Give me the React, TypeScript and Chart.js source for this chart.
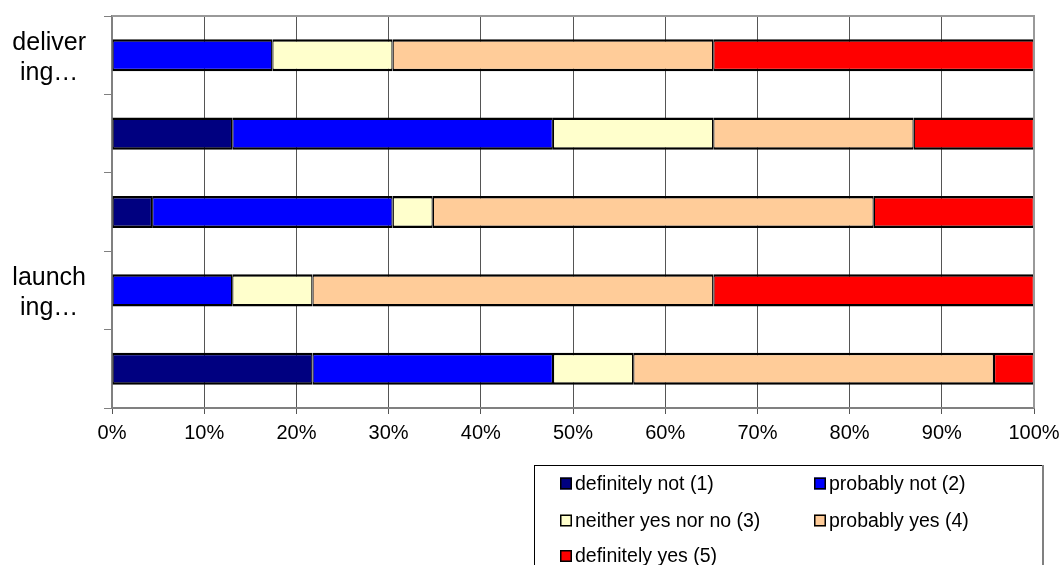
import { useEffect, useRef } from "react";
import { Chart, registerables } from "chart.js";

Chart.register(...registerables);

// Survey rows; only two row labels are printed on the axis
const categories: (string | string[])[] = [["deliver", "ing…"], "", "", ["launch", "ing…"], ""];

// Share of answers per row, in percent
const definitelyNot = [0, 13.04, 4.35, 0, 21.74];
const probablyNot = [17.39, 34.78, 26.09, 13.04, 26.09];
const neitherYesNorNo = [13.04, 17.39, 4.35, 8.7, 8.7];
const probablyYes = [34.78, 21.74, 47.83, 43.48, 39.13];
const definitelyYes = [34.79, 13.05, 17.38, 34.78, 4.34];

const seriesNames = [
  "definitely not (1)",
  "probably not (2)",
  "neither yes nor no (3)",
  "probably yes (4)",
  "definitely yes (5)",
];
const seriesColors = ["#000080", "#0000FF", "#FFFFCC", "#FFCC99", "#FF0000"];
const seriesValues = [definitelyNot, probablyNot, neitherYesNorNo, probablyYes, definitelyYes];

const xTickStep = 10;
const FONT = "'Liberation Sans', Arial, sans-serif";

// Frame around the plot area (top and right sides; left/bottom are the axes)
const plotFrame = {
  id: "plotFrame",
  afterDatasetsDraw(chart: any) {
    const { ctx, chartArea: a } = chart;
    ctx.save();
    ctx.strokeStyle = "#999999";
    ctx.lineWidth = 2;
    ctx.beginPath();
    ctx.moveTo(a.left, a.top);
    ctx.lineTo(a.right, a.top);
    ctx.lineTo(a.right, a.bottom);
    ctx.stroke();
    ctx.restore();
  },
};

// Boxed two-column legend under the plot
const boxLegend = {
  id: "boxLegend",
  afterDraw(chart: any) {
    const { ctx } = chart;
    ctx.save();
    ctx.fillStyle = "#ffffff";
    ctx.fillRect(534, 465, 509, 110);
    ctx.strokeStyle = "#000000";
    ctx.lineWidth = 1;
    ctx.strokeRect(534.5, 465.5, 508, 120);
    ctx.strokeStyle = "#808080";
    ctx.lineWidth = 2;
    ctx.beginPath();
    ctx.moveTo(1043, 465);
    ctx.lineTo(1043, 570);
    ctx.stroke();

    const cols = [560, 814];
    const rows = [483.5, 520.5, 556];
    ctx.font = `19.5px ${FONT}`;
    ctx.textBaseline = "middle";
    ctx.textAlign = "left";
    chart.data.datasets.forEach((ds: any, i: number) => {
      const x = cols[i % 2];
      const y = rows[Math.floor(i / 2)];
      ctx.fillStyle = ds.backgroundColor;
      ctx.fillRect(x, y - 6, 12, 12);
      ctx.strokeStyle = "#000000";
      ctx.lineWidth = 1.5;
      ctx.strokeRect(x + 0.75, y - 5.25, 10.5, 10.5);
      ctx.fillStyle = "#000000";
      ctx.fillText(ds.label, x + 15, y + 1);
    });
    ctx.restore();
  },
};

export default function App() {
  const canvasRef = useRef<HTMLCanvasElement | null>(null);

  useEffect(() => {
    document.body.style.margin = "0";
    const canvas = canvasRef.current;
    if (!canvas) return;

    const chart = new Chart(canvas, {
      type: "bar",
      data: {
        labels: categories,
        datasets: seriesNames.map((name, i) => ({
          label: name,
          data: seriesValues[i],
          backgroundColor: seriesColors[i],
          borderColor: "#000000",
          borderWidth: { top: 2.5, bottom: 2.5, left: 1.25, right: 1.25 },
          borderSkipped: false,
          categoryPercentage: 1,
          barPercentage: 0.41,
        })),
      },
      options: {
        indexAxis: "y",
        responsive: false,
        animation: false,
        devicePixelRatio: 1,
        layout: { padding: { top: 16, right: 30, left: 0, bottom: 0 } },
        plugins: {
          legend: { display: false },
          tooltip: { enabled: false },
        },
        scales: {
          x: {
            stacked: true,
            min: 0,
            max: 100,
            afterFit(scale: any) {
              scale.height = 157;
              scale.paddingLeft = 0;
              scale.paddingRight = 0;
            },
            ticks: {
              stepSize: xTickStep,
              padding: 7,
              color: "#000000",
              font: { family: FONT, size: 20 },
              maxRotation: 0,
              callback: (v: any) => `${v}%`,
            },
            grid: {
              color: "#555555",
              lineWidth: 1,
              tickLength: 6,
              drawTicks: true,
            },
            border: { display: true, color: "#808080", width: 2 },
          },
          y: {
            stacked: true,
            afterFit(scale: any) {
              scale.width = 112;
              scale.paddingTop = 0;
              scale.paddingBottom = 0;
            },
            ticks: {
              autoSkip: false,
              crossAlign: "center",
              padding: 18,
              labelOffset: 3,
              color: "#000000",
              font: { family: FONT, size: 25, lineHeight: 1.2 },
            },
            grid: {
              offset: true,
              drawOnChartArea: false,
              drawTicks: true,
              tickLength: 8,
              color: "#808080",
              lineWidth: 1,
            },
            border: { display: true, color: "#808080", width: 2 },
          },
        },
      },
      plugins: [plotFrame, boxLegend],
    });

    return () => chart.destroy();
  }, []);

  return (
    <div style={{ width: 1064, height: 565, position: "relative", background: "#ffffff" }}>
      <canvas ref={canvasRef} width={1064} height={565} />
    </div>
  );
}
